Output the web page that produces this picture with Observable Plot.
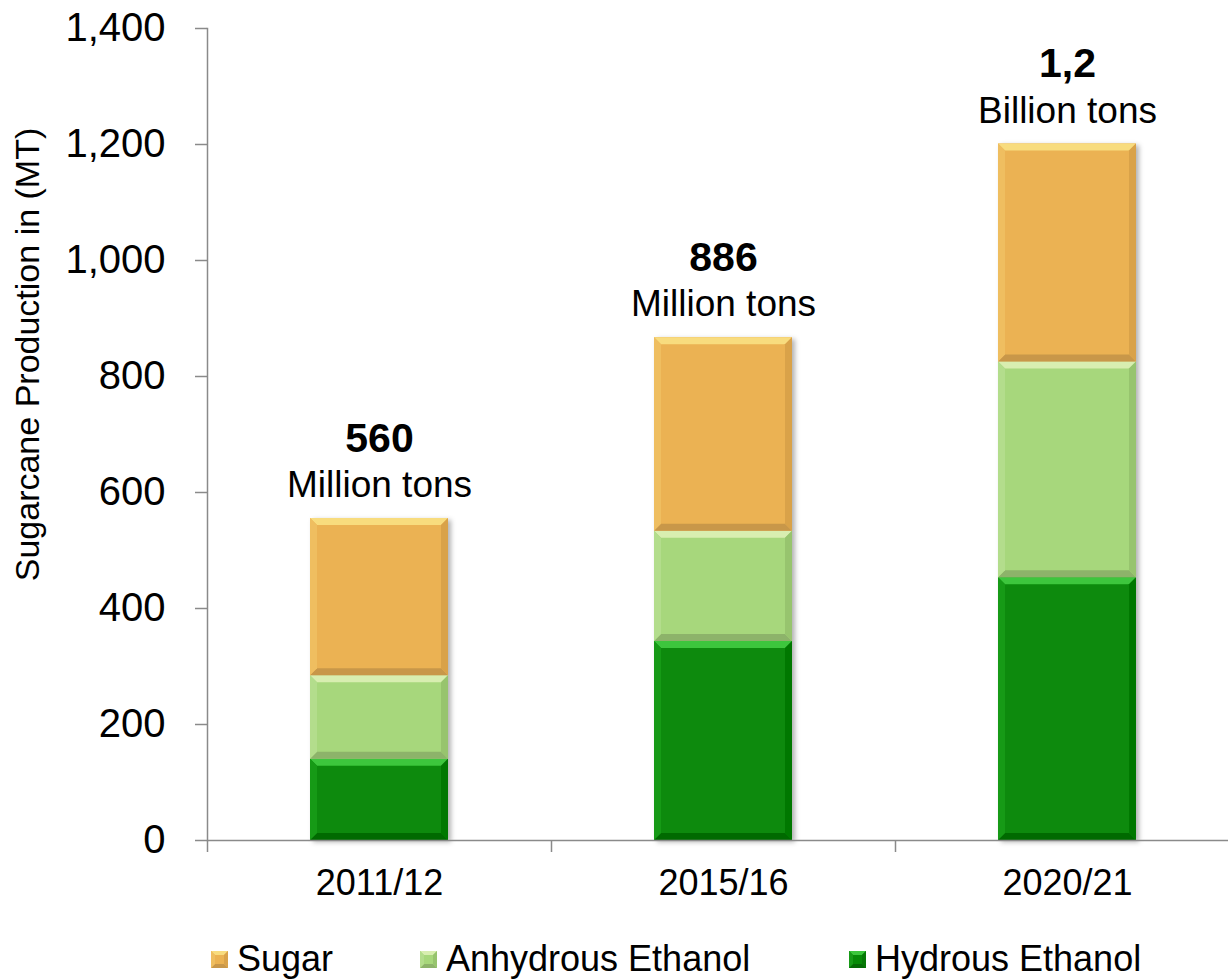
<!DOCTYPE html>
<html>
<head>
<meta charset="utf-8">
<script src="https://cdn.jsdelivr.net/npm/d3@7"></script>
<script src="https://cdn.jsdelivr.net/npm/@observablehq/plot@0.6"></script>
<style>
  html, body { margin: 0; padding: 0; background: #fff; }
  #wrap { position: relative; width: 1228px; height: 980px; overflow: hidden; font-family: "Liberation Sans", Arial, sans-serif; }
  .leg { position: absolute; top: 938px; display: flex; align-items: center; font-size: 36px; color: #000; white-space: nowrap; }
  .leg svg { margin-right: 9px; }
</style>
</head>
<body>
<div id="wrap"></div>
<script>
const categories = ["2011/12", "2015/16", "2020/21"];
const series = ["Sugar", "Anhydrous Ethanol", "Hydrous Ethanol"];
const stackOrder = ["Hydrous Ethanol", "Anhydrous Ethanol", "Sugar"];
const hydrous = [140, 343, 453];
const anhydrous = [144, 190, 372];
const sugar = [271, 334, 376];
const totalLabels = ["560", "886", "1,2"];
const unitLabels = ["Million tons", "Million tons", "Billion tons"];
const yTicks = [0, 200, 400, 600, 800, 1000, 1200, 1400];
const yLabel = "Sugarcane Production in (MT)";

const colors = ["#EBB252", "#A7D77B", "#078A07"];
const bevels = {
  "#EBB252": {top: "#F8DC7E", bottom: "#C8974A", left: "#EFBE60", right: "#D9A24A"},
  "#A7D77B": {top: "#D8EEB0", bottom: "#8DB36A", left: "#B3DD8C", right: "#97C46E"},
  "#078A07": {top: "#3CC63C", bottom: "#056A05", left: "#179A17", right: "#067806"}
};

const FONT = '"Liberation Sans", Arial, sans-serif';

const rows = [];
categories.forEach((c, i) => {
  rows.push({year: c, series: "Hydrous Ethanol", value: hydrous[i]});
  rows.push({year: c, series: "Anhydrous Ethanol", value: anhydrous[i]});
  rows.push({year: c, series: "Sugar", value: sugar[i]});
});
const totals = categories.map((c, i) => ({
  year: c, total: hydrous[i] + anhydrous[i] + sugar[i],
  big: totalLabels[i], unit: unitLabels[i]
}));

const W = 1228, ML = 207, MR = -11;
const step = (W - ML - MR) / 3;

const chart = Plot.plot({
  width: W, height: 910,
  marginTop: 28, marginBottom: 70, marginLeft: ML, marginRight: MR,
  style: {fontFamily: FONT, background: "white", color: "#000", overflow: "hidden"},
  x: {domain: categories, paddingInner: 0.6, paddingOuter: 0.3, label: null},
  y: {domain: [0, 1400], label: null},
  color: {domain: series, range: colors},
  marks: [
    Plot.barY(rows, {x: "year", y: "value", fill: "series", order: stackOrder}),
    Plot.axisY({ticks: yTicks, tickSize: 12, tickPadding: 30, fontSize: 40,
      tickFormat: d3.format(","), stroke: "#8a8a8a", strokeWidth: 1.5, strokeOpacity: 1, label: null}),
    Plot.ruleY([0], {stroke: "#8a8a8a", strokeWidth: 1.5}),
    Plot.frame({anchor: "left", stroke: "#8a8a8a", strokeWidth: 1.5}),
    Plot.axisX({tickSize: 0, tickPadding: 29, fontSize: 36, label: null}),
    Plot.axisX({tickSize: 12, tickFormat: () => "", dx: -step / 2, stroke: "#8a8a8a", strokeWidth: 1.5, strokeOpacity: 1, label: null}),
    Plot.text(totals, {x: "year", y: "total", text: "big", dy: -80, fontSize: 41, fontWeight: "bold", fill: "#000"}),
    Plot.text(totals, {x: "year", y: "total", text: "unit", dy: -33, fontSize: 37, fill: "#000"}),
    Plot.text([yLabel], {frameAnchor: "left", textAnchor: "middle", rotate: -90, dx: -179, dy: -80, fontSize: 34, fill: "#000"})
  ]
});

// bevel effect on bars, using positions produced by Plot
const ns = "http://www.w3.org/2000/svg";
function addBevel(parent, x, y, w, h, pal, b) {
  const polys = [
    [[[x, y], [x + w, y], [x + w - b, y + b], [x + b, y + b]], pal.top],
    [[[x, y + h], [x + w, y + h], [x + w - b, y + h - b], [x + b, y + h - b]], pal.bottom],
    [[[x, y], [x + b, y + b], [x + b, y + h - b], [x, y + h]], pal.left],
    [[[x + w, y], [x + w - b, y + b], [x + w - b, y + h - b], [x + w, y + h]], pal.right]
  ];
  for (const [pts, col] of polys) {
    const p = document.createElementNS(ns, "polygon");
    p.setAttribute("points", pts.map(d => d.join(",")).join(" "));
    p.setAttribute("fill", col);
    parent.appendChild(p);
  }
}
const defs = document.createElementNS(ns, "defs");
defs.innerHTML = '<filter id="shadow" x="-10%" y="-10%" width="130%" height="130%"><feDropShadow dx="3" dy="2" stdDeviation="2.5" flood-color="#000" flood-opacity="0.3"/></filter>';
chart.insertBefore(defs, chart.firstChild);
const barGroup = chart.querySelector('g[aria-label="bar"]');
if (barGroup) {
  barGroup.setAttribute("filter", "url(#shadow)");
  const rects = Array.from(barGroup.querySelectorAll("rect"));
  for (const r of rects) {
    const x = +r.getAttribute("x"), y = +r.getAttribute("y");
    const w = +r.getAttribute("width"), h = +r.getAttribute("height");
    const fill = (r.getAttribute("fill") || "").toUpperCase();
    const pal = bevels[fill];
    if (pal) addBevel(r.parentNode, x, y, w, h, pal, 7);
  }
}

const wrap = document.getElementById("wrap");
wrap.appendChild(chart);

// legend
const legendLeft = [211, 420, 849];
series.forEach((s, i) => {
  const div = document.createElement("div");
  div.className = "leg";
  div.style.left = legendLeft[i] + "px";
  const sw = document.createElementNS(ns, "svg");
  sw.setAttribute("width", 17); sw.setAttribute("height", 17);
  const r = document.createElementNS(ns, "rect");
  r.setAttribute("width", 17); r.setAttribute("height", 17); r.setAttribute("fill", colors[i]);
  sw.appendChild(r);
  addBevel(sw, 0, 0, 17, 17, bevels[colors[i]], 4);
  div.appendChild(sw);
  const t = document.createElement("span");
  t.textContent = s;
  div.appendChild(t);
  wrap.appendChild(div);
});
</script>
</body>
</html>
